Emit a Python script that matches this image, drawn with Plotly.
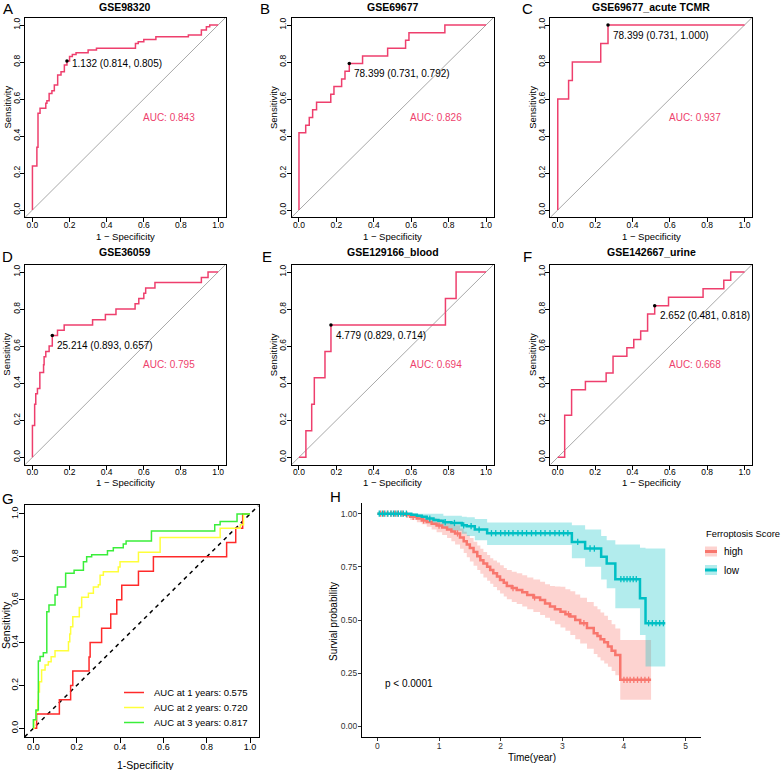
import numpy as np
import plotly.graph_objects as go

W, H = 784, 770
FONT = "Liberation Sans, Arial, Helvetica, sans-serif"
PINK = "#EE3F6D"
RED_KM = "#F8766D"
TEAL_KM = "#00BFC4"

# ---------------- ROC data (1 - specificity, sensitivity) ----------------
A_fpr = [0, 0, 0.024, 0.030, 0.041, 0.072, 0.078, 0.090, 0.105, 0.118, 0.136, 0.154, 0.172, 0.186,
         0.20, 0.215, 0.235, 0.30, 0.345, 0.555, 0.57, 0.60, 0.665, 0.84, 0.91, 0.937, 0.955, 1.0]
A_tpr = [0, 0.238, 0.339, 0.523, 0.55, 0.577, 0.591, 0.63, 0.645, 0.676, 0.73, 0.747, 0.784, 0.805,
         0.83, 0.84, 0.85, 0.865, 0.875, 0.90, 0.91, 0.922, 0.937, 0.946, 0.973, 0.99, 1.0, 1.0]

B_fpr = [0, 0, 0.036, 0.055, 0.073, 0.094, 0.17, 0.187, 0.228, 0.246, 0.269, 0.34, 0.474, 0.57, 0.588, 0.78, 1.0]
B_tpr = [0, 0.417, 0.458, 0.5, 0.542, 0.583, 0.625, 0.667, 0.708, 0.75, 0.792, 0.833, 0.875, 0.917, 0.958, 1.0, 1.0]

C_fpr = [0, 0, 0.058, 0.078, 0.23, 0.269, 1.0]
C_tpr = [0, 0.6, 0.7, 0.8, 0.9, 1.0, 1.0]

D_fpr = [0, 0, 0.012, 0.018, 0.027, 0.04, 0.06, 0.063, 0.072, 0.09, 0.107, 0.135, 0.171, 0.324, 0.393,
         0.45, 0.553, 0.573, 0.6, 0.61, 0.66, 0.91, 0.946, 1.0]
D_tpr = [0, 0.171, 0.286, 0.343, 0.371, 0.457, 0.5, 0.543, 0.571, 0.6, 0.657, 0.686, 0.714, 0.743, 0.771,
         0.8, 0.829, 0.857, 0.886, 0.914, 0.943, 0.971, 1.0, 1.0]

E_fpr = [0, 0.037, 0.068, 0.082, 0.139, 0.171, 0.783, 0.84, 1.0]
E_tpr = [0, 0.143, 0.286, 0.429, 0.571, 0.714, 0.857, 1.0, 1.0]

F_fpr = [0, 0.037, 0.074, 0.148, 0.259, 0.296, 0.37, 0.407, 0.444, 0.481, 0.519, 0.593, 0.778, 0.889, 0.926, 1.0]
F_tpr = [0, 0.227, 0.364, 0.409, 0.455, 0.545, 0.591, 0.636, 0.682, 0.773, 0.818, 0.864, 0.909, 0.955, 1.0, 1.0]

roc_titles = ["GSE98320", "GSE69677", "GSE69677_acute TCMR", "GSE36059", "GSE129166_blood", "GSE142667_urine"]
roc_letters = ["A", "B", "C", "D", "E", "F"]
roc_auc = [0.843, 0.826, 0.937, 0.795, 0.694, 0.668]
thr_value = ["1.132", "78.399", "78.399", "25.214", "4.779", "2.652"]
thr_spec = [0.814, 0.731, 0.731, 0.893, 0.829, 0.481]
thr_sens = [0.805, 0.792, 1.000, 0.657, 0.714, 0.818]
roc_fpr = [A_fpr, B_fpr, C_fpr, D_fpr, E_fpr, F_fpr]
roc_tpr = [A_tpr, B_tpr, C_tpr, D_tpr, E_tpr, F_tpr]

# ---------------- time-dependent ROC (panel G) ----------------
G1_fpr = [0, 0.015, 0.12, 0.172, 0.182, 0.257, 0.262, 0.315, 0.357, 0.385, 0.408, 0.485, 0.554, 0.892, 0.934, 0.966, 1.0]
G1_tpr = [0, 0.067, 0.133, 0.2, 0.267, 0.333, 0.4, 0.467, 0.533, 0.6, 0.667, 0.733, 0.8, 0.867, 0.933, 1.0, 1.0]
G2_fpr = [0, 0.003, 0.012, 0.02, 0.023, 0.028, 0.038, 0.054, 0.069, 0.082, 0.1, 0.162, 0.168, 0.172, 0.182, 0.212,
          0.223, 0.254, 0.277, 0.3, 0.308, 0.323, 0.392, 0.4, 0.485, 0.585, 0.862, 0.955, 0.97, 1.0]
G2_tpr = [0, 0.04, 0.08, 0.13, 0.17, 0.217, 0.272, 0.295, 0.311, 0.334, 0.362, 0.404, 0.44, 0.474, 0.52, 0.564,
          0.611, 0.63, 0.659, 0.67, 0.714, 0.73, 0.753, 0.777, 0.821, 0.89, 0.933, 0.95, 1.0, 1.0]
G3_fpr = [0, 0, 0.012, 0.023, 0.031, 0.046, 0.062, 0.072, 0.1, 0.111, 0.149, 0.188, 0.231, 0.246, 0.269, 0.342,
          0.369, 0.415, 0.428, 0.545, 0.837, 0.862, 0.94, 1.0]
G3_tpr = [0, 0.04, 0.085, 0.314, 0.335, 0.353, 0.544, 0.575, 0.622, 0.659, 0.723, 0.738, 0.777, 0.8, 0.81, 0.829,
          0.843, 0.86, 0.874, 0.92, 0.95, 0.965, 1.0, 1.0]
G_names = ["AUC at 1 years: 0.575", "AUC at 2 years: 0.720", "AUC at 3 years: 0.817"]
G_colors = ["#FF2A2A", "#FFFF3A", "#3AEE3A"]

# ---------------- Kaplan-Meier (panel H) ----------------
high_time = [0, 0.45, 0.53, 0.64, 0.72, 0.80, 0.88, 0.96, 1.05, 1.13, 1.20, 1.26, 1.34, 1.40, 1.45, 1.50, 1.56,
             1.62, 1.67, 1.72, 1.78, 1.83, 1.88, 1.94, 1.99, 2.05, 2.10, 2.18, 2.26, 2.35, 2.43, 2.53, 2.64, 2.72,
             2.80, 2.88, 2.97, 3.05, 3.13, 3.21, 3.29, 3.40, 3.51, 3.57, 3.62, 3.68, 3.74, 3.80, 3.86, 3.94, 4.44]
high_surv = [1.0, 0.995, 0.985, 0.977, 0.968, 0.961, 0.952, 0.944, 0.935, 0.925, 0.916, 0.907, 0.888, 0.870, 0.855,
             0.838, 0.820, 0.800, 0.781, 0.766, 0.750, 0.735, 0.720, 0.705, 0.688, 0.675, 0.660, 0.650, 0.641, 0.630,
             0.617, 0.606, 0.594, 0.578, 0.563, 0.551, 0.539, 0.527, 0.516, 0.500, 0.485, 0.462, 0.438, 0.425, 0.410,
             0.395, 0.375, 0.355, 0.335, 0.219, 0.219]
high_upper = [1.0, 1.0, 1.0, 0.995, 0.99, 0.985, 0.98, 0.975, 0.965, 0.958, 0.95, 0.945, 0.93, 0.915, 0.90, 0.885,
              0.868, 0.85, 0.835, 0.82, 0.805, 0.79, 0.78, 0.77, 0.757, 0.745, 0.735, 0.727, 0.72, 0.71, 0.70, 0.69,
              0.68, 0.668, 0.66, 0.658, 0.656, 0.645, 0.635, 0.62, 0.605, 0.585, 0.565, 0.55, 0.535, 0.52, 0.50, 0.48,
              0.46, 0.406, 0.406]
high_lower = [1.0, 0.985, 0.97, 0.96, 0.95, 0.938, 0.925, 0.912, 0.90, 0.885, 0.87, 0.855, 0.835, 0.815, 0.795, 0.775,
              0.755, 0.735, 0.718, 0.70, 0.685, 0.67, 0.655, 0.64, 0.625, 0.61, 0.597, 0.585, 0.575, 0.563, 0.55,
              0.538, 0.523, 0.51, 0.497, 0.48, 0.465, 0.45, 0.43, 0.41, 0.39, 0.365, 0.34, 0.325, 0.31, 0.295, 0.28,
              0.26, 0.24, 0.125, 0.125]
low_time = [0, 0.55, 0.64, 0.72, 0.80, 0.91, 0.99, 1.07, 1.20, 1.37, 1.45, 1.58, 1.78, 3.155, 3.37, 3.63, 3.72, 3.86,
            4.26, 4.35, 4.67]
low_surv = [1.0, 0.995, 0.99, 0.985, 0.977, 0.97, 0.966, 0.96, 0.956, 0.945, 0.941, 0.925, 0.908, 0.867, 0.836, 0.797,
            0.766, 0.692, 0.602, 0.485, 0.485]
low_upper = [1.0, 1.0, 1.0, 1.0, 1.0, 1.0, 1.0, 0.99, 0.99, 0.985, 0.983, 0.975, 0.958, 0.945, 0.925, 0.895, 0.875,
             0.855, 0.84, 0.836, 0.836]
low_lower = [1.0, 0.985, 0.975, 0.965, 0.955, 0.945, 0.937, 0.93, 0.92, 0.905, 0.895, 0.875, 0.852, 0.79, 0.75, 0.69,
             0.649, 0.555, 0.43, 0.281, 0.281]
high_censor = [0.05, 0.1, 0.16, 0.22, 0.28, 0.33, 0.4, 0.48, 0.58, 0.75, 1.0, 1.3, 2.2, 2.55, 3.1, 3.35,
               4.0, 4.05, 4.1, 4.16, 4.22, 4.28, 4.34, 4.4]
low_censor = [0.03, 0.08, 0.12, 0.17, 0.22, 0.26, 0.3, 0.34, 0.38, 0.42, 0.47, 0.85, 1.1, 1.25, 1.4, 1.52, 1.65,
              1.85, 1.92, 2.0, 2.07, 2.13, 2.2, 2.28, 2.35, 2.42, 2.5, 2.57, 2.65, 2.72, 2.8, 2.88, 2.95, 3.02, 3.09,
              3.25, 3.45, 3.52, 3.95, 4.0, 4.05, 4.1, 4.15, 4.2, 4.4, 4.46, 4.52, 4.58, 4.64]
km_groups = ["high", "low"]
km_legend_title = "Ferroptosis Score"
p_text = "p < 0.0001"

# ---------------- layout helpers (pixel -> paper) ----------------
def fx(x):
    return x / W


def fy(y):
    return 1 - y / H


ROC_RANGE = [-0.04, 1.04]
col_px = [(25.0, 225.5), (291.5, 493.5), (550.3, 752.0)]
row_px = [(17.6, 217.4), (264.6, 464.7)]

fig = go.Figure()
annotations = []
shapes = []
layout = {}


def txt(x, y, text, size, color="black", xanchor="center", angle=0):
    annotations.append(dict(xref="paper", yref="paper", x=fx(x), y=fy(y), text=text, showarrow=False,
                            xanchor=xanchor, yanchor="middle", textangle=angle,
                            font=dict(size=size, color=color, family=FONT)))


def axis_style(tsize=8.5, tlen=4):
    return dict(range=ROC_RANGE, tickvals=[0, 0.2, 0.4, 0.6, 0.8, 1.0],
                ticktext=["0.0", "0.2", "0.4", "0.6", "0.8", "1.0"],
                ticks="outside", ticklen=tlen, tickwidth=1, tickcolor="black",
                showline=True, linecolor="black", linewidth=1, mirror=True,
                showgrid=False, zeroline=False, automargin=False,
                tickfont=dict(size=tsize, color="black", family=FONT))


letter_pos = [(8, 9), (265, 9), (527, 9), (8, 257), (267, 257), (527, 257)]
title_y = [7, 252]
tick_title_y = [237, 482]

for i in range(6):
    n = i + 1
    r, c = divmod(i, 3)
    x0, x1 = col_px[c]
    y0, y1 = row_px[r]
    layout[f"xaxis{n}"] = dict(axis_style(), domain=[fx(x0), fx(x1)], anchor=f"y{n}", ticklabelstandoff=-5)
    layout[f"yaxis{n}"] = dict(axis_style(), domain=[fy(y1), fy(y0)], anchor=f"x{n}", tickangle=-90,
                               ticklabelstandoff=-3)
    xr, yr = f"x{n}", f"y{n}"
    fig.add_trace(go.Scatter(x=ROC_RANGE, y=ROC_RANGE, mode="lines",
                             line=dict(color="#A8A8A8", width=1), xaxis=xr, yaxis=yr,
                             showlegend=False, hoverinfo="skip"))
    fig.add_trace(go.Scatter(x=roc_fpr[i], y=roc_tpr[i], mode="lines",
                             line=dict(color=PINK, width=1.5, shape="hv"), xaxis=xr, yaxis=yr,
                             showlegend=False))
    tx = 1 - thr_spec[i]
    fig.add_trace(go.Scatter(x=[tx], y=[thr_sens[i]], mode="markers",
                             marker=dict(color="black", size=3.5), xaxis=xr, yaxis=yr, showlegend=False))
    annotations.append(dict(xref=xr, yref=yr, x=tx, y=thr_sens[i],
                            text=f"{thr_value[i]} ({thr_spec[i]:.3f}, {thr_sens[i]:.3f})",
                            xanchor="left", yanchor="middle", showarrow=False,
                            xshift=3, yshift=(-2 if i == 0 else -10),
                            font=dict(size=10, color="black", family=FONT)))
    annotations.append(dict(xref=xr, yref=yr, x=0.735, y=0.5, text=f"AUC: {roc_auc[i]:.3f}",
                            xanchor="center", yanchor="middle", showarrow=False,
                            font=dict(size=10, color=PINK, family=FONT)))
    txt((x0 + x1) / 2, title_y[r], f"<b>{roc_titles[i]}</b>", 10.5)
    txt((x0 + x1) / 2, tick_title_y[r], "1 \u2212 Specificity", 9.5)
    txt(x0 - 18, (y0 + y1) / 2 - 10, "Sensitivity", 9.5, angle=-90)
    lx, ly = letter_pos[i]
    txt(lx, ly, roc_letters[i], 15)

# ---------------- panel G ----------------
gx0, gx1, gy0, gy1 = 24.7, 258.7, 505.4, 736.9
layout["xaxis7"] = dict(axis_style(9, 5), domain=[fx(gx0), fx(gx1)], anchor="y7", ticklabelstandoff=-4)
layout["yaxis7"] = dict(axis_style(9, 5), domain=[fy(gy1), fy(gy0)], anchor="x7", tickangle=-90,
                        ticklabelstandoff=-3)
fig.add_trace(go.Scatter(x=ROC_RANGE, y=ROC_RANGE, mode="lines",
                         line=dict(color="black", width=1.5, dash="4px,4px"),
                         xaxis="x7", yaxis="y7", showlegend=False, hoverinfo="skip"))
for fpr, tpr, col in zip([G1_fpr, G2_fpr, G3_fpr], [G1_tpr, G2_tpr, G3_tpr], G_colors):
    fig.add_trace(go.Scatter(x=fpr, y=tpr, mode="lines",
                             line=dict(color=col, width=1.5, shape="hv"),
                             xaxis="x7", yaxis="y7", showlegend=False))
# legend (bottom-right box of panel G)
for k, (name, col) in enumerate(zip(G_names, G_colors)):
    ly = 692.5 + k * 15.0
    shapes.append(dict(type="line", xref="paper", yref="paper", x0=fx(124), x1=fx(144), y0=fy(ly), y1=fy(ly),
                       line=dict(color=col, width=1.5)))
    txt(152, ly, name, 9.5, xanchor="left")
txt((gx0 + gx1) / 2 + 4, 765, "1-Specificity", 10.5)
txt(6, 625, "Sensitivity", 10.5, angle=-90)
txt(8, 498, "G", 15)

# ---------------- panel H ----------------
hx0, hx1, hy0, hy1 = 362, 701, 503, 737
layout["xaxis8"] = dict(domain=[fx(hx0), fx(hx1)], anchor="y8", range=[-0.25, 5.25],
                        tickvals=[0, 1, 2, 3, 4, 5], ticks="outside", ticklen=3, tickcolor="#333333",
                        showline=True, linecolor="black", linewidth=1, showgrid=False, zeroline=False,
                        automargin=False, ticklabelstandoff=-2,
                        tickfont=dict(size=8.5, color="#333333", family=FONT))
layout["yaxis8"] = dict(domain=[fy(hy1), fy(hy0)], anchor="x8", range=[-0.05, 1.05],
                        tickvals=[0, 0.25, 0.5, 0.75, 1.0], ticktext=["0.00", "0.25", "0.50", "0.75", "1.00"],
                        ticks="outside", ticklen=3, tickcolor="#333333", automargin=False,
                        showline=True, linecolor="black", linewidth=1, showgrid=False, zeroline=False,
                        ticklabelstandoff=-1,
                        tickfont=dict(size=8.5, color="#333333", family=FONT))

km_sets = [
    (high_time, high_surv, high_lower, high_upper, high_censor, RED_KM, "rgba(248,118,109,0.32)"),
    (low_time, low_surv, low_lower, low_upper, low_censor, TEAL_KM, "rgba(0,191,196,0.30)"),
]
for (t, s, lo, up, cens, col, fcol) in km_sets:
    fig.add_trace(go.Scatter(x=t, y=lo, mode="lines", line=dict(width=0, shape="hv"),
                             xaxis="x8", yaxis="y8", showlegend=False, hoverinfo="skip"))
    fig.add_trace(go.Scatter(x=t, y=up, mode="lines", line=dict(width=0, shape="hv"), fill="tonexty",
                             fillcolor=fcol, xaxis="x8", yaxis="y8", showlegend=False, hoverinfo="skip"))
for k, ((t, s, lo, up, cens, col, fcol), g) in enumerate(zip(km_sets, km_groups)):
    fig.add_trace(go.Scatter(x=t, y=s, mode="lines", line=dict(color=col, width=2.5, shape="hv"),
                             xaxis="x8", yaxis="y8", showlegend=False))
    tarr = np.array(t)
    idx = np.searchsorted(tarr, np.array(cens), side="right") - 1
    cy = np.array(s)[idx]
    fig.add_trace(go.Scatter(x=cens, y=cy, mode="markers",
                             marker=dict(symbol="line-ns", size=4.5, line=dict(color=col, width=1.3)),
                             xaxis="x8", yaxis="y8", showlegend=False))
    ky = 551.5 + k * 18.5
    shapes.append(dict(type="rect", xref="paper", yref="paper", x0=fx(705), x1=fx(717),
                       y0=fy(ky + 5), y1=fy(ky - 5), fillcolor=fcol, line=dict(width=0)))
    shapes.append(dict(type="line", xref="paper", yref="paper", x0=fx(705), x1=fx(717),
                       y0=fy(ky), y1=fy(ky), line=dict(color=col, width=3)))
    txt(722, ky, g, 10, xanchor="left")
txt(704, 533, km_legend_title, 9.4, xanchor="left")

annotations.append(dict(xref="x8", yref="y8", x=0.09, y=0.2, text=p_text, showarrow=False,
                        xanchor="left", yanchor="middle", font=dict(size=10, color="black", family=FONT)))
txt((hx0 + hx1) / 2, 757, "Time(year)", 10)
txt(333, 622, "Survial probability", 10, angle=-90)
txt(335, 496, "H", 15)

fig.update_layout(
    template="none",
    width=W, height=H, margin=dict(l=0, r=0, t=0, b=0, autoexpand=False),
    paper_bgcolor="white", plot_bgcolor="white",
    font=dict(family=FONT, color="black"),
    annotations=annotations, shapes=shapes,
    showlegend=False,
    hovermode=False,
    **layout,
)

fig.write_html("out.html", config={"displayModeBar": False, "staticPlot": True},
               post_script="document.body.style.margin='0px';")
